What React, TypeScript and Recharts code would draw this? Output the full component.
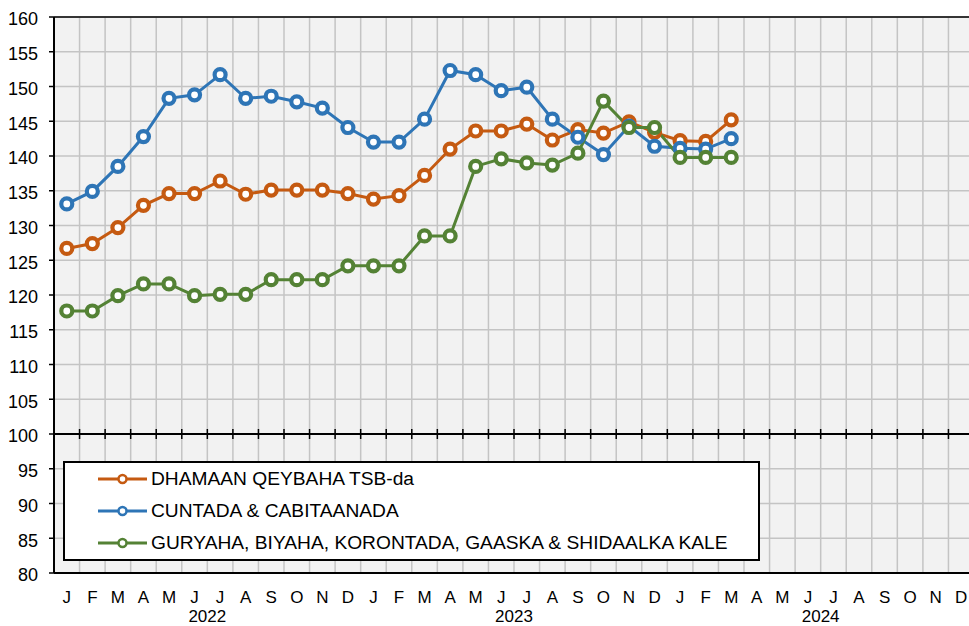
import { LineChart, Line, XAxis, YAxis, CartesianGrid, ReferenceLine, Legend } from 'recharts';

const MONTHS = [
  'J', 'F', 'M', 'A', 'M', 'J', 'J', 'A', 'S', 'O', 'N', 'D',
  'J', 'F', 'M', 'A', 'M', 'J', 'J', 'A', 'S', 'O', 'N', 'D',
  'J', 'F', 'M', 'A', 'M', 'J', 'J', 'A', 'S', 'O', 'N', 'D',
];
const YEARS = ['2022', '2023', '2024'];
const Y_TICKS = [80, 85, 90, 95, 100, 105, 110, 115, 120, 125, 130, 135, 140, 145, 150, 155, 160];

const SERIES_NAMES = [
  'DHAMAAN QEYBAHA TSB-da',
  'CUNTADA & CABITAANADA',
  'GURYAHA, BIYAHA, KORONTADA, GAASKA & SHIDAALKA KALE',
];
const COLORS = ['#c55a11', '#2e75b6', '#548235'];

// Jan 2022 .. Mar 2024
const ALL_ITEMS = [
  126.7, 127.4, 129.7, 132.9, 134.6, 134.6, 136.4, 134.5, 135.1, 135.1, 135.1, 134.6,
  133.8, 134.3, 137.2, 141.0, 143.6, 143.6, 144.6, 142.3, 143.8, 143.3, 144.9, 143.4,
  142.2, 142.1, 145.2,
];
const FOOD = [
  133.1, 134.9, 138.5, 142.8, 148.3, 148.8, 151.7, 148.3, 148.6, 147.8, 146.9, 144.1,
  142.0, 142.0, 145.3, 152.3, 151.7, 149.4, 149.9, 145.3, 142.7, 140.2, 144.3, 141.4,
  141.1, 141.0, 142.5,
];
const HOUSING = [
  117.7, 117.7, 119.9, 121.6, 121.6, 119.9, 120.1, 120.1, 122.2, 122.2, 122.2, 124.2,
  124.2, 124.2, 128.5, 128.5, 138.5, 139.6, 139.0, 138.7, 140.4, 147.9, 144.1, 144.1,
  139.8, 139.8, 139.8,
];

const N = MONTHS.length;
const data = MONTHS.map((m, i) => ({
  x: i + 0.5,
  m,
  all: ALL_ITEMS[i],
  food: FOOD[i],
  housing: HOUSING[i],
}));

// month centres plus year marks (mid-year boundaries)
const X_TICKS = [...MONTHS.map((_, i) => i + 0.5), ...YEARS.map((_, k) => k * 12 + 6)].sort((a, b) => a - b);
const BOUNDS = Array.from({ length: N - 1 }, (_, k) => k + 1);

const FONT = '"Liberation Sans", Arial, sans-serif';

const XTick = (props: any) => {
  const { x, y, payload } = props;
  const v = payload.value;
  if (Number.isInteger(v)) {
    return (
      <text x={x} y={y} dy={41} textAnchor="middle" fontSize={17} fontFamily={FONT} fill="#000">
        {YEARS[Math.floor(v / 12)]}
      </text>
    );
  }
  return (
    <text x={x} y={y} dy={22} textAnchor="middle" fontSize={17} fontFamily={FONT} fill="#000">
      {MONTHS[Math.floor(v)]}
    </text>
  );
};

const AxisAt100 = (p: any) => {
  const { x1, x2, y1 } = p;
  const step = (x2 - x1) / N;
  return (
    <g>
      <line x1={x1} x2={x2} y1={y1} y2={y1} stroke="#000" strokeWidth={2} />
      {BOUNDS.map((k) => (
        <line key={k} x1={x1 + step * k} x2={x1 + step * k} y1={y1 - 5} y2={y1 + 5} stroke="#000" strokeWidth={1.5} />
      ))}
    </g>
  );
};

const LegendBox = () => (
  <div
    style={{
      width: 697,
      height: 100,
      boxSizing: 'border-box',
      border: '2px solid #000',
      background: '#fff',
      paddingLeft: 33,
      fontFamily: FONT,
      fontSize: 19.2,
      color: '#000',
    }}
  >
    {SERIES_NAMES.map((name, i) => (
      <div key={name} style={{ height: 32, display: 'flex', alignItems: 'center' }}>
        <svg width={49} height={14} style={{ marginRight: 4 }}>
          <line x1={0} x2={49} y1={7} y2={7} stroke={COLORS[i]} strokeWidth={3} />
          <circle cx={24.5} cy={7} r={4} fill="#fff" stroke={COLORS[i]} strokeWidth={2.5} />
        </svg>
        <span style={{ whiteSpace: 'nowrap' }}>{name}</span>
      </div>
    ))}
  </div>
);

const dot = (c: string) => ({ r: 5.5, strokeWidth: 4.2, fill: '#fff', stroke: c });

export default function App() {
  return (
    <div style={{ position: 'absolute', left: 0, top: 0, width: 969, height: 626, overflow: 'hidden', background: '#fff' }}>
      <LineChart width={975} height={626} data={data} margin={{ top: 17, right: 1, left: 0, bottom: 0 }}>
        <CartesianGrid
          fill="#f2f2f2"
          stroke="#c4c4c4"
          strokeWidth={1.5}
          verticalCoordinatesGenerator={({ offset }: any) =>
            BOUNDS.map((k) => offset.left + (offset.width * k) / N)
          }
        />
        <XAxis
          dataKey="x"
          type="number"
          domain={[0, N]}
          ticks={X_TICKS}
          interval={0}
          height={53}
          tickLine={false}
          axisLine={{ stroke: '#000', strokeWidth: 2 }}
          tick={<XTick />}
        />
        <YAxis
          type="number"
          domain={[80, 160]}
          ticks={Y_TICKS}
          interval={0}
          width={54}
          tickSize={5}
          tickMargin={11}
          axisLine={{ stroke: '#000', strokeWidth: 2 }}
          tickLine={{ stroke: '#000', strokeWidth: 1.5 }}
          tick={{ fill: '#000', fontSize: 18, fontFamily: FONT, dy: 2 }}
        />
        <ReferenceLine y={160} stroke="#000" strokeWidth={1.5} />
        <ReferenceLine y={100} shape={<AxisAt100 />} />
        <Legend
          layout="vertical"
          align="center"
          verticalAlign="middle"
          wrapperStyle={{ left: 63, top: 461, width: 697 }}
          content={() => <LegendBox />}
        />
        <Line
          dataKey="all"
          name={SERIES_NAMES[0]}
          stroke={COLORS[0]}
          strokeWidth={3}
          dot={dot(COLORS[0])}
          activeDot={false}
          isAnimationActive={false}
        />
        <Line
          dataKey="food"
          name={SERIES_NAMES[1]}
          stroke={COLORS[1]}
          strokeWidth={3}
          dot={dot(COLORS[1])}
          activeDot={false}
          isAnimationActive={false}
        />
        <Line
          dataKey="housing"
          name={SERIES_NAMES[2]}
          stroke={COLORS[2]}
          strokeWidth={3}
          dot={dot(COLORS[2])}
          activeDot={false}
          isAnimationActive={false}
        />
      </LineChart>
    </div>
  );
}
